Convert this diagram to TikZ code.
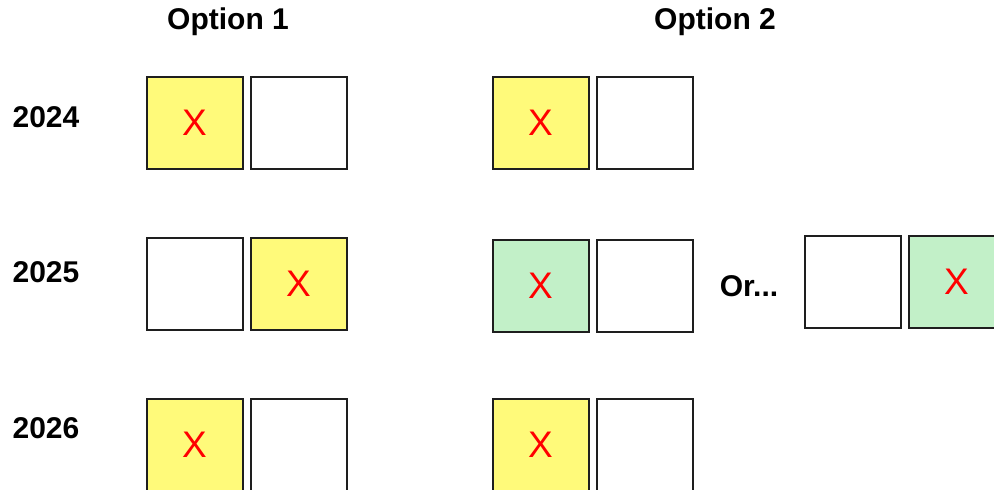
\documentclass[tikz,border=0pt]{standalone}
\usepackage{fontspec}
\setmainfont{Liberation Sans}
\definecolor{yel}{RGB}{255,250,122}
\definecolor{grn}{RGB}{194,240,200}
\definecolor{xred}{RGB}{255,0,0}
\definecolor{edge}{RGB}{30,30,30}
\begin{document}
\begin{tikzpicture}[x=1pt,y=-1pt,
  cell/.style={draw=edge,line width=2pt,minimum width=96pt,minimum height=92pt,inner sep=0pt,fill=white,
    font=\fontsize{37}{40}\selectfont,text=xred,text depth=-10pt},
  ycell/.style={cell,fill=yel},
  gcell/.style={cell,fill=grn},
  head/.style={font=\fontsize{30}{33}\selectfont\bfseries,inner sep=0pt},
  year/.style={font=\fontsize{30}{33}\selectfont\bfseries,inner sep=0pt}]
\useasboundingbox (0,0) rectangle (994,490);
\clip (0,0) rectangle (994,490);
\node[head] (h1) at (228,22) {Option 1};
\node[head] (h2) at (715,22) {Option 2};
\node[year] (y24) at (46,117) {2024};
\node[year] (y25) at (46,272) {2025};
\node[year] (y26) at (46,428) {2026};
% Option 1
\node[ycell] (a1) at (194.5,122.5) {X};
\node[cell]  (a2) at (298.5,122.5) {};
\node[cell]  (b1) at (194.5,283.5) {};
\node[ycell] (b2) at (298.5,283.5) {X};
\node[ycell] (c1) at (194.5,444.5) {X};
\node[cell]  (c2) at (298.5,444.5) {};
% Option 2
\node[ycell] (d1) at (540.5,122.5) {X};
\node[cell]  (d2) at (644.5,122.5) {};
\node[gcell] (e1) at (540.5,285.5) {X};
\node[cell]  (e2) at (644.5,285.5) {};
\node[year]  (or) at (749,286) {Or...};
\node[cell]  (f1) at (852.5,282) {};
\node[gcell] (f2) at (956.5,282) {X};
\node[ycell] (g1) at (540.5,444.5) {X};
\node[cell]  (g2) at (644.5,444.5) {};
\end{tikzpicture}
\end{document}
